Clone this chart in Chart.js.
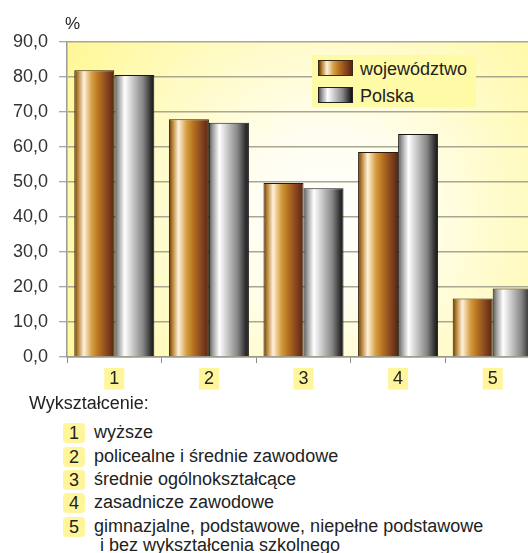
<!DOCTYPE html>
<html>
<head>
<meta charset="utf-8">
<script src="https://cdn.jsdelivr.net/npm/chart.js@4/dist/chart.umd.min.js"></script>
<style>
  html, body { margin:0; padding:0; width:528px; height:553px; overflow:hidden; background:#fff;
    font-family:"Liberation Sans", Arial, sans-serif; color:#222; }
  #wrap { position:absolute; left:0; top:0; width:545px; height:395px; }
  .abs { position:absolute; white-space:nowrap; }
  .num { position:absolute; width:22px; height:20px; background:#fff59a; border-radius:4px; text-align:center;
         line-height:21px; font-size:18px; }
  #legend { position:absolute; left:312px; top:55px; width:164px; height:52px; background:#fffaa6; }
  .sw { position:absolute; left:6px; width:35px; height:16px; box-sizing:border-box; border:1px solid #3a2a1a; }
  .lt { position:absolute; left:48px; font-size:18px; line-height:18px; }
</style>
</head>
<body>
<div id="wrap"><canvas id="c"></canvas></div>
<div class="abs" style="left:65px;top:14px;font-size:17px;">%</div>
<div id="legend">
  <div class="sw" style="top:5px;background:linear-gradient(90deg,#5e3a0c 0%,#b88232 9%,#fff2dc 24%,#d59e42 44%,#b8741f 60%,#854420 82%,#56260f 100%);"></div>
  <div class="lt" style="top:5px;">województwo</div>
  <div class="sw" style="top:32px;border-color:#222;background:linear-gradient(90deg,#555 0%,#9a9a9a 9%,#ffffff 26%,#c4c4c4 48%,#858585 72%,#363636 90%,#111 100%);"></div>
  <div class="lt" style="top:32px;">Polska</div>
</div>
<div class="abs" style="left:29px;top:393px;font-size:18px;">Wykształcenie:</div>
<div id="list"></div>
<script>
const categories = ["1", "2", "3", "4", "5"];
const seriesNames = ["województwo", "Polska"];
const wojewodztwo = [81.9, 67.9, 49.7, 58.6, 16.7];
const polska = [80.6, 66.9, 48.2, 63.7, 19.6];
const yTicks = [0, 10, 20, 30, 40, 50, 60, 70, 80, 90];
const listLabels = [
  "wyższe",
  "policealne i średnie zawodowe",
  "średnie ogólnokształcące",
  "zasadnicze zawodowe",
  "gimnazjalne, podstawowe, niepełne podstawowe"
];
const listExtra = "i bez wykształcenia szkolnego";

// bottom list
const list = document.getElementById('list');
const rowTops = [423, 447, 470, 493, 517];
listLabels.forEach((t, i) => {
  const n = document.createElement('div');
  n.className = 'num'; n.textContent = categories[i];
  n.style.left = '63px'; n.style.top = rowTops[i] + 'px';
  list.appendChild(n);
  const d = document.createElement('div');
  d.className = 'abs'; d.textContent = t;
  d.style.left = '94px'; d.style.top = (rowTops[i] - 1) + 'px'; d.style.fontSize = '18px';
  list.appendChild(d);
});
const ex = document.createElement('div');
ex.className = 'abs'; ex.textContent = listExtra;
ex.style.left = '100px'; ex.style.top = '535px'; ex.style.fontSize = '18px';
list.appendChild(ex);

const CAT_PCT = 0.846;
const stopsWoj = [[0,'#5e3a0c'],[0.09,'#b88232'],[0.24,'#fff2dc'],[0.44,'#d59e42'],[0.6,'#b8741f'],[0.82,'#854420'],[1,'#56260f']];
const stopsPl = [[0,'#555555'],[0.09,'#9a9a9a'],[0.26,'#ffffff'],[0.48,'#c4c4c4'],[0.72,'#858585'],[0.9,'#363636'],[1,'#111111']];

function barGradient(stops) {
  return (c) => {
    const chart = c.chart;
    const xs = chart.scales.x;
    if (!xs || c.dataIndex === undefined || !chart.chartArea) return stops[3][1];
    const center = xs.getPixelForValue(c.dataIndex);
    const catW = xs.getPixelForValue(1) - xs.getPixelForValue(0);
    const bw = catW * CAT_PCT / 2;
    const left = center - bw + c.datasetIndex * bw;
    const g = chart.ctx.createLinearGradient(left, 0, left + bw, 0);
    stops.forEach(s => g.addColorStop(s[0], s[1]));
    return g;
  };
}

const bgPlugin = {
  id: 'bg',
  beforeDraw(chart) {
    const a = chart.chartArea, ctx = chart.ctx;
    const cx = a.left + a.width * 0.55, cy = a.top + a.height * 0.55;
    const g = ctx.createRadialGradient(cx, cy, 0, cx, cy, 330);
    g.addColorStop(0, '#ffffff');
    g.addColorStop(0.25, '#fffef0');
    g.addColorStop(1, '#fff78e');
    ctx.save();
    ctx.fillStyle = g;
    ctx.fillRect(a.left, a.top, a.width, a.height);
    ctx.restore();
  }
};

new Chart(document.getElementById('c'), {
  type: 'bar',
  data: {
    labels: categories,
    datasets: [
      { label: seriesNames[0], data: wojewodztwo, backgroundColor: barGradient(stopsWoj), borderColor: '#2a1a0a', borderWidth: 1 },
      { label: seriesNames[1], data: polska, backgroundColor: barGradient(stopsPl), borderColor: '#151515', borderWidth: 1 }
    ]
  },
  options: {
    responsive: true,
    maintainAspectRatio: false,
    animation: false,
    layout: { padding: { top: 42, right: 5, left: 0, bottom: 0 } },
    datasets: { bar: { categoryPercentage: CAT_PCT, barPercentage: 1.0 } },
    plugins: { legend: { display: false }, tooltip: { enabled: false } },
    scales: {
      x: {
        afterFit(s) { s.height = 38; },
        grid: { offset: true, drawOnChartArea: false, drawTicks: true, tickLength: 6, color: '#8a8a8a', lineWidth: 1 },
        border: { display: true, color: '#9a9a8a', width: 1.5 },
        ticks: {
          padding: 5, color: '#222',
          font: { family: '"Liberation Sans", Arial, sans-serif', size: 18 },
          showLabelBackdrop: true, backdropColor: '#fff59a', backdropPadding: { x: 5, y: 0 }
        }
      },
      y: {
        min: 0, max: 90,
        afterFit(s) { s.width = 67; },
        afterBuildTicks(s) { s.ticks = yTicks.map(v => ({ value: v })); },
        grid: { color: '#a8a890', lineWidth: 1.5, drawTicks: true, tickLength: 8, tickColor: '#8a8a8a', tickWidth: 1 },
        border: { display: true, color: '#9a9a9a', width: 1.5 },
        ticks: {
          padding: 11, color: '#333',
          font: { family: '"Liberation Sans", Arial, sans-serif', size: 18 },
          callback: v => v.toFixed(1).replace('.', ',')
        }
      }
    }
  },
  plugins: [bgPlugin]
});
</script>
</body>
</html>
